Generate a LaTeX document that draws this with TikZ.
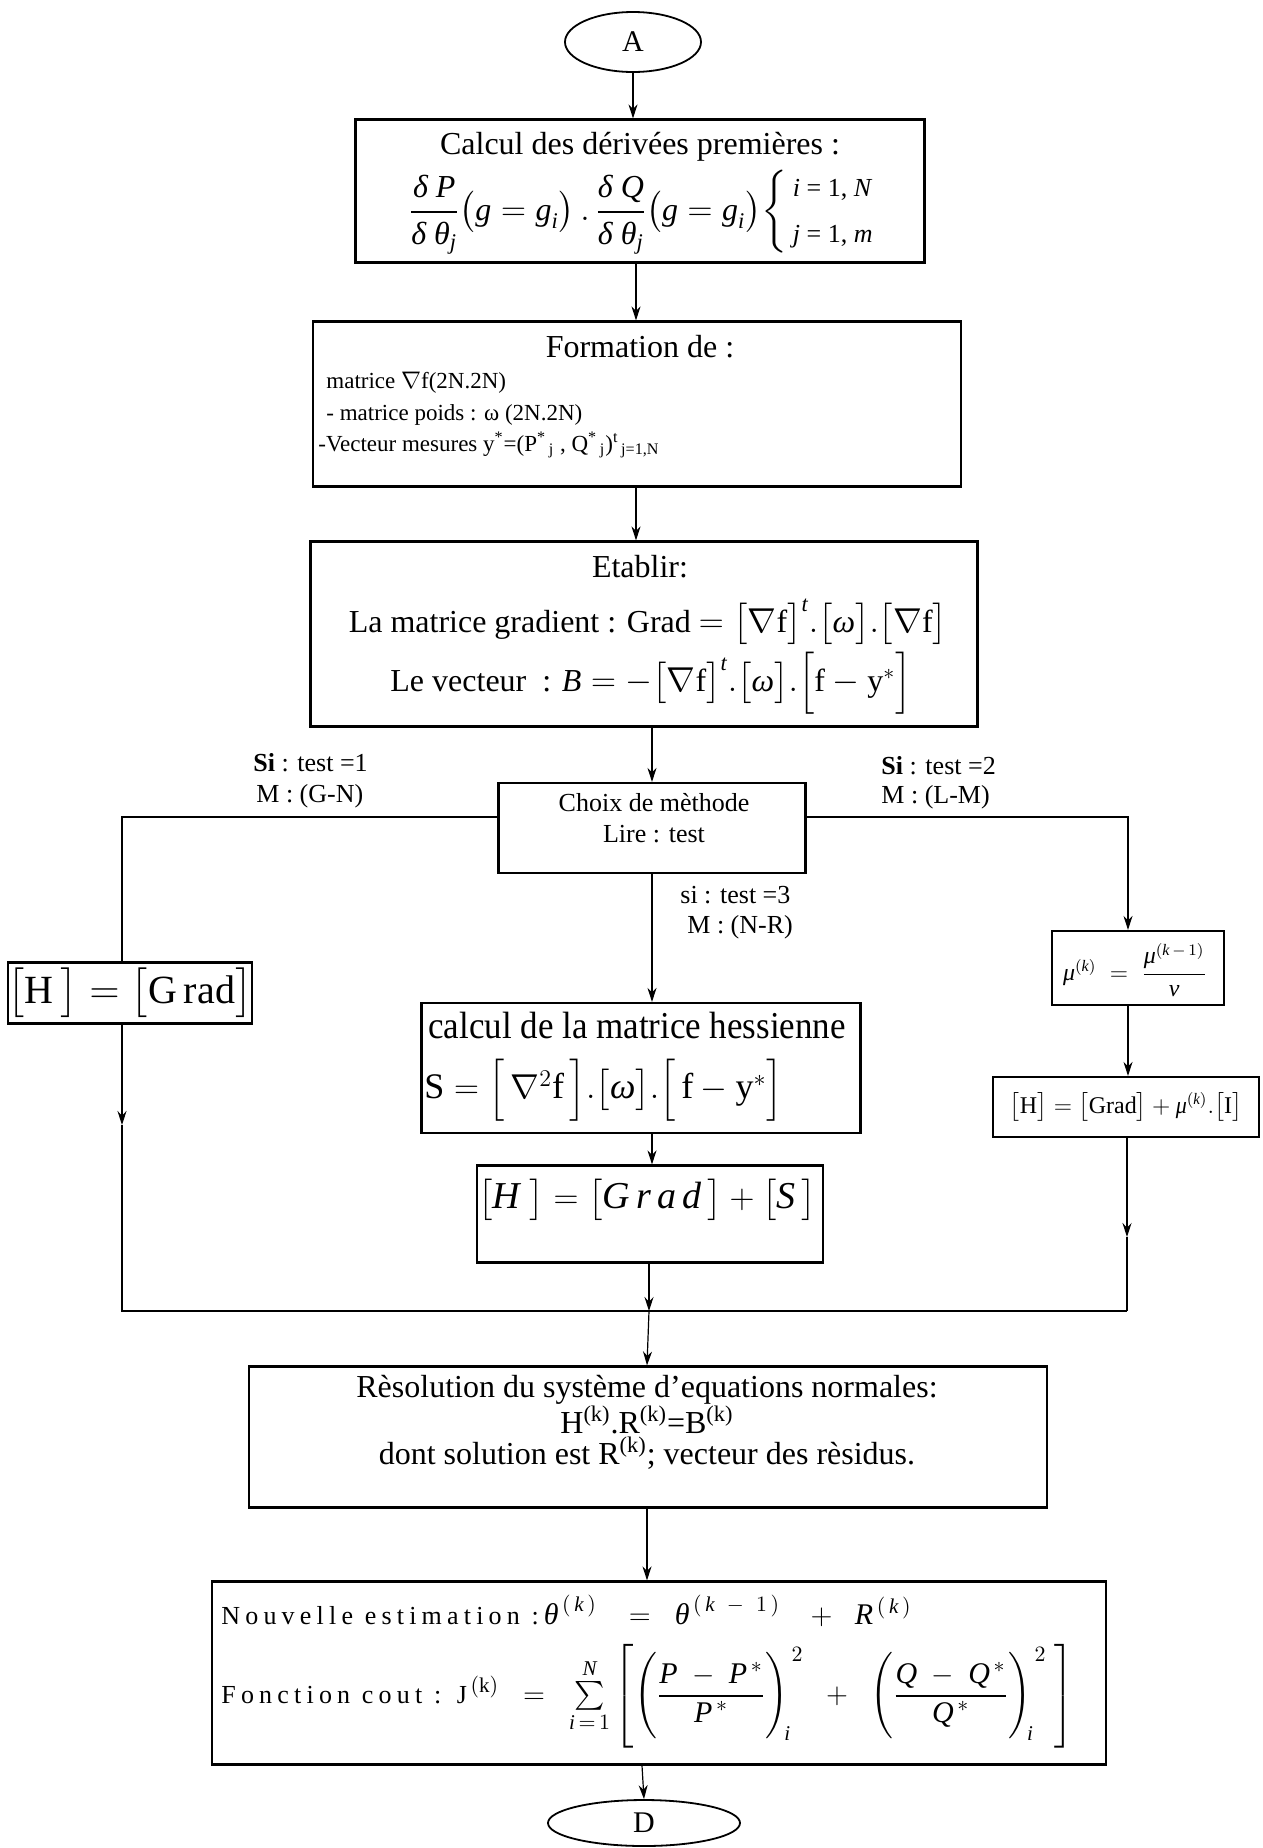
\documentclass[tikz,border=0pt]{standalone}
\usepackage{amsmath}
\usepackage{fontspec}
\setmainfont{Liberation Serif}
\newfontfamily\condfont[FakeStretch=0.92]{Liberation Serif}
\newfontfamily\spacedfont[LetterSpace=20]{Liberation Serif}
\newcommand{\ti}[1]{\text{\itshape #1}}
\usetikzlibrary{arrows.meta,shapes.geometric}
\begin{document}
\begin{tikzpicture}[x=0.5pt,y=-0.5pt,
  box/.style={draw, line width=1.1pt, inner sep=0pt, rectangle},
  oval/.style={draw, line width=0.9pt, ellipse, inner sep=0pt},
  txt/.style={inner sep=0pt, font=\fontsize{16}{19}\selectfont},
  ltxt/.style={txt, anchor=west},
  lbl/.style={inner sep=0pt, anchor=west, font=\fontsize{13}{15}\selectfont},
  conn/.style={line width=0.6pt},
  arr/.style={conn, -{Stealth[length=7pt,width=4.5pt]}},
]
\useasboundingbox (0,0) rectangle (1263,1848);
\fill[white] (0,0) rectangle (1263,1848);

% ---- nodes ----
\node[oval, minimum width=68pt, minimum height=30pt, font=\fontsize{15}{18}\selectfont] (A) at (633,42) {A};

\node[box, minimum width=284.5pt, minimum height=71.5pt] (b1) at (640,191) {};
\node[txt] (b1t) at (640,147) {Calcul des dérivées premières :};
\node[txt] (b1f) at (642,212) {$\dfrac{\ti{δ P}}{\ti{δ θ}_{\ti{j}}}\bigl(\ti{g} = \ti{g}_{\ti{i}}\bigr)\,.\,\dfrac{\ti{δ Q}}{\ti{δ θ}_{\ti{j}}}\bigl(\ti{g} = \ti{g}_{\ti{i}}\bigr)\!\left\{\begin{array}{@{\,}l@{}}\text{\fontsize{13}{15}\selectfont\textit{i} = 1, \textit{N}}\\[4pt] \text{\fontsize{13}{15}\selectfont\textit{j} = 1, \textit{m}}\end{array}\right.$};

\node[box, minimum width=324pt, minimum height=82.5pt] (b2) at (637,404) {};
\node[txt] (b2t) at (640,347) {Formation de :};
\node[ltxt, font=\fontsize{11.5}{14}\selectfont] (b2a) at (326,383) {matrice $\nabla$f(2N.2N)};
\node[ltxt, font=\fontsize{11.5}{14}\selectfont] (b2b) at (326,415) {- matrice poids : ω (2N.2N)};
\node[ltxt, font=\fontsize{11.5}{14}\selectfont] (b2c) at (318,445) {-Vecteur mesures y\textsuperscript{*}=(P\textsuperscript{*}\textsubscript{\,j} , Q\textsuperscript{*}\textsubscript{\,j})\textsuperscript{t}\textsubscript{\,j=1,N}};

\node[box, minimum width=333.5pt, minimum height=92.5pt] (b3) at (644,634) {};
\node[txt] (b3t) at (640,567) {Etablir:};
\node[txt] (b3a) at (648,622) {La matrice gradient : Grad $=\bigl[\nabla\mathrm{f}\bigr]^{\ti{t}}.\bigl[\ti{ω}\bigr].\bigl[\nabla\mathrm{f}\bigr]$};
\node[txt] (b3b) at (651,683) {Le vecteur\ \ : $\ti{B}=-\bigl[\nabla\mathrm{f}\bigr]^{\ti{t}}.\bigl[\ti{ω}\bigr].\Bigl[\mathrm{f}-\mathrm{y}^{*}\Bigr]$};

\node[box, minimum width=153.5pt, minimum height=45pt] (b4) at (652,828) {};
\node[txt, font=\fontsize{13}{15}\selectfont] (b4a) at (654,803) {Choix de mèthode};
\node[txt, font=\fontsize{13}{15}\selectfont] (b4b) at (654,834) {Lire : test};

\node[lbl] (l1a) at (253,763) {\textbf{Si} : test =1};
\node[lbl] (l1b) at (256,796) {M : (G-N)};
\node[lbl] (l2a) at (881,766) {\textbf{Si} : test =2};
\node[lbl] (l2b) at (881,797) {M : (L-M)};
\node[lbl] (l3a) at (680,895) {si : test =3};
\node[lbl] (l3b) at (687,927) {M : (N-R)};

\node[box, minimum width=121pt, minimum height=30.5pt, font=\fontsize{20}{24}\condfont\selectfont] (bL) at (130,993) {$\bigl[\mathrm{H}\,\bigr]=\bigl[\mathrm{G\,rad}\bigr]$};

\node[box, minimum width=86pt, minimum height=37pt] (bmu) at (1138,968) {};
\node[inner sep=0pt, font=\fontsize{12}{14}\selectfont] (bmuf) at (1135,970) {$\ti{μ}^{(\ti{k})}\;=\;\dfrac{\ti{μ}^{(\ti{k}\,-\,1)}}{\ti{ν}}$};
\node[box, minimum width=133pt, minimum height=30pt, font=\fontsize{12}{14}\condfont\selectfont] (bHmu) at (1126,1107) {$\bigl[\mathrm{H}\bigr]=\bigl[\mathrm{Grad}\bigr]+\ti{μ}^{(\ti{k})}.\bigl[\mathrm{I}\bigr]$};

\node[box, minimum width=219.5pt, minimum height=65pt] (bhes) at (641,1068) {};
\node[ltxt, font=\fontsize{19}{22}\condfont\selectfont] (bhest) at (428,1025) {calcul de la matrice hessienne};
\node[ltxt, font=\fontsize{18}{22}\selectfont] (bhesf) at (424,1090) {$\mathrm{S}=\Bigl[\,\nabla^{2}\mathrm{f}\,\Bigr].\bigl[\ti{ω}\bigr].\Bigl[\,\mathrm{f}-\mathrm{y}^{*}\Bigr]$};

\node[box, minimum width=173pt, minimum height=48.5pt] (bHS) at (650,1214) {};
\node[txt, font=\fontsize{19}{23}\selectfont] (bHSf) at (647,1200) {$\bigl[\ti{H}\;\bigr]=\bigl[\ti{G\,r\,a\,d}\,\bigr]+\bigl[\ti{S}\,\bigr]$};

\node[box, minimum width=399pt, minimum height=70.5pt] (b5) at (648,1437) {};
\node[txt] (b5a) at (647,1390) {Rèsolution du système d’equations normales:};
\node[txt] (b5b) at (647,1420) {H\textsuperscript{(k)}.R\textsuperscript{(k)}=B\textsuperscript{(k)}};
\node[txt] (b5c) at (647,1453) {dont solution est R\textsuperscript{(k)}; vecteur des rèsidus.};

\node[box, minimum width=447pt, minimum height=91.5pt] (b6) at (659,1673) {};
\node[ltxt, font=\fontsize{15}{18}\selectfont] (b6a) at (221,1611) {{\spacedfont\fontsize{13}{16}\selectfont Nouvelle estimation :}\,$\ti{θ}^{\,(\,\ti{k}\,)}\;\;\;=\;\;\ti{θ}^{\,(\,\ti{k}\;\;-\;\;1\,)}\;\;\;+\;\;\ti{R}^{\,(\,\ti{k}\,)}$};
\node[ltxt, font=\fontsize{15}{18}\selectfont] (b6b) at (221,1696) {{\spacedfont\fontsize{13}{16}\selectfont Fonction cout : J}$^{\,(\mathrm{k})}\;\;=\;\;\sum\limits_{\ti{i}\,=\,1}^{\ti{N}}\left[\Biggl(\dfrac{\ti{P}\;-\;\ti{P}^{\,*}}{\ti{P}^{\,*}}\Biggr)_{\!\ti{i}}^{\,2}\;\;+\;\;\Biggl(\dfrac{\ti{Q}\;-\;\ti{Q}^{\,*}}{\ti{Q}^{\,*}}\Biggr)_{\!\ti{i}}^{\,2}\;\right]$};

\node[oval, minimum width=96pt, minimum height=23pt, font=\fontsize{15}{18}\selectfont] (D) at (644,1823) {D};

% ---- connector coordinates ----
\coordinate (x1) at (636,0);
\coordinate (mx) at (652,0);
\coordinate (lj) at (122,817);
\coordinate (lm) at (122,1125);
\coordinate (lb) at (122,1311);
\coordinate (rj) at (1128,817);
\coordinate (rm) at (1127,1237);
\coordinate (rb) at (1127,1311);
\coordinate (mj) at (649,1311);
\coordinate (x5) at (647,0);
\coordinate (x6) at (642,0);

% ---- connectors ----
\draw[arr] (A.south) -- (A.south |- b1.north);
\draw[arr] (b1.south -| x1) -- (b2.north -| x1);
\draw[arr] (b2.south -| x1) -- (b3.north -| x1);
\draw[arr] (b3.south -| mx) -- (b4.north -| mx);
\draw[arr] (b4.south -| mx) -- (bhes.north -| mx);
\draw[arr] (bhes.south -| mx) -- (bHS.north -| mx);
\draw[arr] (bHS.south -| mj) -- (mj);

\draw[conn] (b4.west |- lj) -- (lj) -- (lj |- bL.north);
\draw[arr] (bL.south -| lj) -- (lm);
\draw[conn] (lm) -- (lb) -- (rb);

\draw[arr] (b4.east |- rj) -- (rj) -- (rj |- bmu.north);
\draw[arr] (bmu.south -| rj) -- (bHmu.north -| rj);
\draw[arr] (bHmu.south -| rm) -- (rm);
\draw[conn] (rm) -- (rb);

\draw[arr] (mj) -- (b5.north -| x5);
\draw[arr] (b5.south -| x5) -- (b6.north -| x5);
\draw[arr] (b6.south -| x6) -- (D.north);
\end{tikzpicture}
\end{document}
